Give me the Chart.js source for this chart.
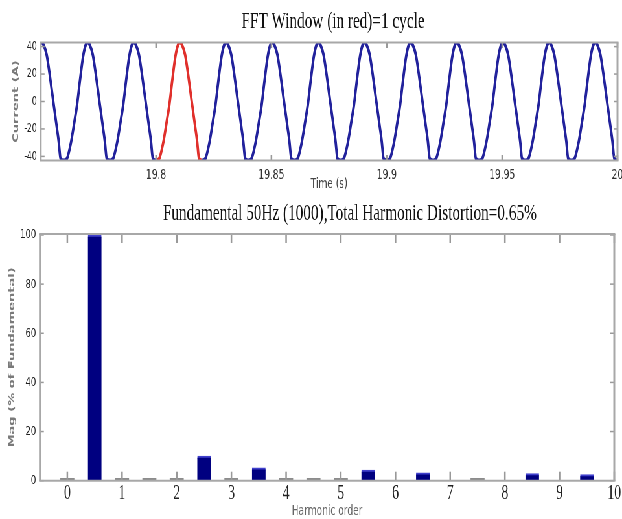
<!DOCTYPE html>
<html>
<head>
<meta charset="utf-8">
<title>FFT analysis</title>
<script src="https://cdn.jsdelivr.net/npm/chart.js@4/dist/chart.umd.min.js"></script>
<style>
  html, body { margin: 0; padding: 0; background: #fff; overflow: hidden; }
  /* the original figure was squeezed sideways, so draw wide and squeeze */
  #stretch { width: 1000px; transform: scaleX(0.648); transform-origin: 0 0; }
  canvas { display: block; }
</style>
</head>
<body>
<div id="stretch">
  <canvas id="wave" width="1000" height="197"></canvas>
  <canvas id="spectrum" width="1000" height="324"></canvas>
</div>
<script>
// ---- time signal (s, A) ----
const timeS = [
  19.75, 19.7504, 19.7512, 19.7526, 19.7542, 19.7557, 19.757, 19.7578, 19.7586,
  19.76, 19.7614, 19.763, 19.7646, 19.7658, 19.767, 19.7684, 19.7696, 19.7704, 19.7712, 19.7726, 19.7742, 19.7757, 19.777, 19.7778, 19.7786,
  19.78, 19.7814, 19.783, 19.7846, 19.7858, 19.787, 19.7884, 19.7896, 19.7904, 19.7912, 19.7926, 19.7942, 19.7957, 19.797, 19.7978, 19.7986,
  19.8, 19.8014, 19.803, 19.8046, 19.8058, 19.807, 19.8084, 19.8096, 19.8104, 19.8112, 19.8126, 19.8142, 19.8157, 19.817, 19.8178, 19.8186,
  19.82, 19.8214, 19.823, 19.8246, 19.8258, 19.827, 19.8284, 19.8296, 19.8304, 19.8312, 19.8326, 19.8342, 19.8357, 19.837, 19.8378, 19.8386,
  19.84, 19.8414, 19.843, 19.8446, 19.8458, 19.847, 19.8484, 19.8496, 19.8504, 19.8512, 19.8526, 19.8542, 19.8557, 19.857, 19.8578, 19.8586,
  19.86, 19.8614, 19.863, 19.8646, 19.8658, 19.867, 19.8684, 19.8696, 19.8704, 19.8712, 19.8726, 19.8742, 19.8757, 19.877, 19.8778, 19.8786,
  19.88, 19.8814, 19.883, 19.8846, 19.8858, 19.887, 19.8884, 19.8896, 19.8904, 19.8912, 19.8926, 19.8942, 19.8957, 19.897, 19.8978, 19.8986,
  19.9, 19.9014, 19.903, 19.9046, 19.9058, 19.907, 19.9084, 19.9096, 19.9104, 19.9112, 19.9126, 19.9142, 19.9157, 19.917, 19.9178, 19.9186,
  19.92, 19.9214, 19.923, 19.9246, 19.9258, 19.927, 19.9284, 19.9296, 19.9304, 19.9312, 19.9326, 19.9342, 19.9357, 19.937, 19.9378, 19.9386,
  19.94, 19.9414, 19.943, 19.9446, 19.9458, 19.947, 19.9484, 19.9496, 19.9504, 19.9512, 19.9526, 19.9542, 19.9557, 19.957, 19.9578, 19.9586,
  19.96, 19.9614, 19.963, 19.9646, 19.9658, 19.967, 19.9684, 19.9696, 19.9704, 19.9712, 19.9726, 19.9742, 19.9757, 19.977, 19.9778, 19.9786,
  19.98, 19.9814, 19.983, 19.9846, 19.9858, 19.987, 19.9884, 19.9896, 19.9904, 19.9912, 19.9926, 19.9942, 19.9957, 19.997, 19.9978, 19.9986,
  20
];
const currentA = [
  42.8, 43, 41.5, 34, 16, -3, -19, -29, -41.5,
  -43, -41.5, -31, -15, -2, 15, 33, 41.5, 43, 41.5, 34, 16, -3, -19, -29, -41.5,
  -43, -41.5, -31, -15, -2, 15, 33, 41.5, 43, 41.5, 34, 16, -3, -19, -29, -41.5,
  -43, -41.5, -31, -15, -2, 15, 33, 41.5, 43, 41.5, 34, 16, -3, -19, -29, -41.5,
  -43, -41.5, -31, -15, -2, 15, 33, 41.5, 43, 41.5, 34, 16, -3, -19, -29, -41.5,
  -43, -41.5, -31, -15, -2, 15, 33, 41.5, 43, 41.5, 34, 16, -3, -19, -29, -41.5,
  -43, -41.5, -31, -15, -2, 15, 33, 41.5, 43, 41.5, 34, 16, -3, -19, -29, -41.5,
  -43, -41.5, -31, -15, -2, 15, 33, 41.5, 43, 41.5, 34, 16, -3, -19, -29, -41.5,
  -43, -41.5, -31, -15, -2, 15, 33, 41.5, 43, 41.5, 34, 16, -3, -19, -29, -41.5,
  -43, -41.5, -31, -15, -2, 15, 33, 41.5, 43, 41.5, 34, 16, -3, -19, -29, -41.5,
  -43, -41.5, -31, -15, -2, 15, 33, 41.5, 43, 41.5, 34, 16, -3, -19, -29, -41.5,
  -43, -41.5, -31, -15, -2, 15, 33, 41.5, 43, 41.5, 34, 16, -3, -19, -29, -41.5,
  -43, -41.5, -31, -15, -2, 15, 33, 41.5, 43, 41.5, 34, 16, -3, -19, -29, -41.5,
  -43
];
const fftWindow = [19.8, 19.82];
const timeTicks = [19.8, 19.85, 19.9, 19.95, 20];
const timeTickLabels = ['19.8', '19.85', '19.9', '19.95', '20'];
const currentTicks = [-40, -20, 0, 20, 40];

// ---- spectrum (% of fundamental) ----
const harmonicOrders = [0.5, 2.5, 3.5, 5.5, 6.5, 8.5, 9.5];
const harmonicMag = [100, 10, 5.2, 4.3, 3.2, 2.9, 2.5];
const minorOrders = [0, 1, 1.5, 2, 3, 4, 4.5, 5, 7.5];
const minorMag = [1, 1, 1, 1, 1, 1, 1, 1, 1];
const orderTicks = [0, 1, 2, 3, 4, 5, 6, 7, 8, 9, 10];
const magTicks = [0, 20, 40, 60, 80, 100];

const BLUE = '#22229c';
const RED = '#e0302c';

// box around the plot with matlab style inward ticks on all sides
const matlabBox = {
  id: 'matlabBox',
  afterDatasetsDraw(chart, args, opts) {
    const { ctx, chartArea: a } = chart;
    const x = chart.scales.x;
    const y = chart.scales.y;
    const seg = (x1, y1, x2, y2) => {
      ctx.beginPath();
      ctx.moveTo(x1, y1);
      ctx.lineTo(x2, y2);
      ctx.stroke();
    };
    ctx.save();
    ctx.strokeStyle = opts.tickColor;
    ctx.lineWidth = 2.5;
    x.ticks.forEach(t => {
      const px = x.getPixelForValue(t.value);
      seg(px, a.bottom, px, a.bottom - opts.xTick);
      seg(px, a.top, px, a.top + opts.xTick);
    });
    ctx.lineWidth = 1.5;
    y.ticks.forEach(t => {
      const py = y.getPixelForValue(t.value);
      seg(a.left, py, a.left + opts.yTick, py);
      seg(a.right, py, a.right - opts.yTick, py);
    });
    ctx.strokeStyle = opts.color;
    ctx.lineWidth = 2;
    seg(a.left - 1.5, a.top, a.right + 1.5, a.top);
    seg(a.left - 1.5, a.bottom, a.right + 1.5, a.bottom);
    ctx.lineWidth = 3;
    seg(a.left, a.top, a.left, a.bottom);
    seg(a.right, a.top, a.right, a.bottom);
    ctx.restore();
  }
};

// title text above the plot, centred on the plot area plus a shift
const plotTitle = {
  id: 'plotTitle',
  afterDraw(chart, args, opts) {
    const { ctx, chartArea: a } = chart;
    ctx.save();
    ctx.font = opts.font;
    ctx.fillStyle = opts.color;
    ctx.textAlign = 'center';
    ctx.textBaseline = 'alphabetic';
    ctx.fillText(opts.text, (a.left + a.right) / 2 + opts.shift, opts.baseline);
    ctx.restore();
  }
};

const sans = 'DejaVu Sans';
const serif = 'Liberation Serif';

new Chart(document.getElementById('wave'), {
  type: 'line',
  data: {
    datasets: [{
      data: timeS.map((t, i) => ({ x: t, y: currentA[i] })),
      borderColor: BLUE,
      borderWidth: 3.8,
      pointRadius: 0,
      cubicInterpolationMode: 'monotone',
      segment: {
        borderColor: c => (c.p0.parsed.x >= fftWindow[0] && c.p1.parsed.x <= fftWindow[1]) ? RED : BLUE
      }
    }]
  },
  options: {
    responsive: false,
    animation: false,
    layout: { padding: { left: 0, right: 47, top: 42.5, bottom: 4.1 } },
    plugins: {
      legend: { display: false },
      tooltip: { enabled: false },
      matlabBox: { color: '#a8a8a8', tickColor: '#999', xTick: 5.5, yTick: 6 },
      plotTitle: { text: 'FFT Window (in red)=1 cycle', font: '23.5px "Liberation Serif"', color: '#111', shift: 6, baseline: 28.3 }
    },
    scales: {
      x: {
        type: 'linear',
        min: 19.75,
        max: 20,
        grid: { display: false, drawTicks: false },
        border: { display: false },
        afterBuildTicks: s => { s.ticks = timeTicks.map(v => ({ value: v })); },
        afterFit: s => { s.height = 32.4; },
        ticks: {
          padding: 6.5, autoSkip: false, maxRotation: 0, minRotation: 0,
          font: { family: sans, size: 14 }, color: '#333',
          callback: (v, i) => timeTickLabels[i]
        },
        title: { display: true, text: 'Time (s)', font: { family: sans, size: 14 }, color: '#444', padding: 0 }
      },
      y: {
        min: -43,
        max: 43,
        grid: { display: false, drawTicks: false },
        border: { display: false },
        afterBuildTicks: s => { s.ticks = currentTicks.map(v => ({ value: v })); },
        afterFit: s => { s.width = 62.8; },
        ticks: { padding: 6, font: { family: sans, size: 12 }, color: '#222', callback: v => String(v) },
        title: {
          display: true, text: 'Current (A)', font: { family: sans, size: 13, weight: 'bold' },
          color: '#7a7a7a', padding: { top: 16.6, bottom: 0 }
        }
      }
    }
  },
  plugins: [matlabBox, plotTitle]
});

new Chart(document.getElementById('spectrum'), {
  type: 'bar',
  data: {
    datasets: [{
      data: harmonicOrders.map((o, i) => ({ x: o, y: harmonicMag[i] })),
      backgroundColor: '#000080',
      borderColor: '#4040cc',
      borderWidth: { top: 2, left: 0, right: 0, bottom: 0 },
      barThickness: 21,
      grouped: false
    }, {
      data: minorOrders.map((o, i) => ({ x: o, y: minorMag[i] })),
      backgroundColor: '#8c8c8c',
      barThickness: 21,
      grouped: false
    }]
  },
  options: {
    responsive: false,
    animation: false,
    layout: { padding: { left: 0, right: 52, top: 37, bottom: 0.9 } },
    plugins: {
      legend: { display: false },
      tooltip: { enabled: false },
      matlabBox: { color: '#a8a8a8', tickColor: '#999', xTick: 9, yTick: 6 },
      plotTitle: {
        text: 'Fundamental 50Hz (1000),Total Harmonic Distortion=0.65%',
        font: '23.5px "Liberation Serif"', color: '#111', shift: 35, baseline: 23
      }
    },
    scales: {
      x: {
        type: 'linear',
        min: -0.5,
        max: 10,
        offset: false,
        grid: { display: false, drawTicks: false },
        border: { display: false },
        afterBuildTicks: s => { s.ticks = orderTicks.map(v => ({ value: v })); },
        afterFit: s => { s.height = 39.4; },
        ticks: {
          padding: 0, autoSkip: false, maxRotation: 0, minRotation: 0,
          font: { family: serif, size: 21 }, color: '#222',
          callback: v => String(v)
        },
        title: { display: true, text: 'Harmonic order', font: { family: sans, size: 14 }, color: '#666', padding: 0 }
      },
      y: {
        min: 0,
        max: 100.4,
        grid: { display: false, drawTicks: false },
        border: { display: false },
        afterBuildTicks: s => { s.ticks = magTicks.map(v => ({ value: v })); },
        afterFit: s => { s.width = 61.7; },
        ticks: { padding: 6, font: { family: sans, size: 13 }, color: '#222', callback: v => String(v) },
        title: {
          display: true, text: 'Mag (% of Fundamental)', font: { family: sans, size: 13, weight: 'bold' },
          color: '#7a7a7a', padding: { top: 10.4, bottom: 0 }
        }
      }
    }
  },
  plugins: [matlabBox, plotTitle]
});
</script>
</body>
</html>
